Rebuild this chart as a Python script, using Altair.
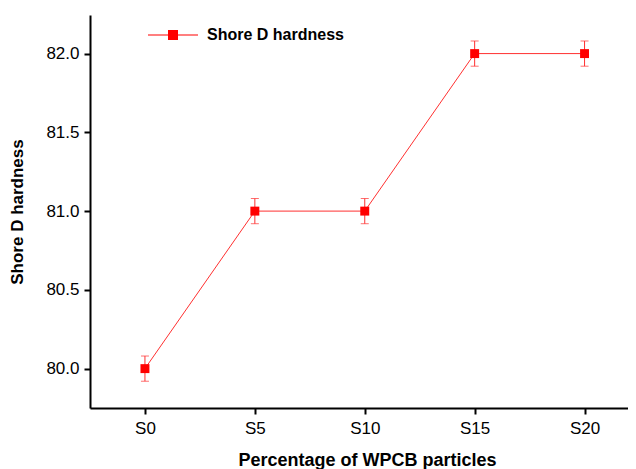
import altair as alt
import pandas as pd

categories = ["S0", "S5", "S10", "S15", "S20"]
hardness = [80.0, 81.0, 81.0, 82.0, 82.0]
error = [0.08, 0.08, 0.08, 0.08, 0.08]
series_name = "Shore D hardness"
y_ticks = [80.0, 80.5, 81.0, 81.5, 82.0]

df = pd.DataFrame({"cat": categories, "val": hardness, "err": error})
df["lo"] = df["val"] - df["err"]
df["hi"] = df["val"] + df["err"]
df["series"] = series_name

RED = "#FF0000"
LINE_RED = "#FF3030"

x_scale = alt.Scale(type="point", padding=0.5, range=[0, 549.5])
x_enc = alt.X(
    "cat:N",
    sort=categories,
    scale=x_scale,
    axis=alt.Axis(
        title="Percentage of WPCB particles",
        titleX=277,
        labelAngle=0,
        labelFontSize=17,
        labelPadding=6,
        titleFontSize=18,
        titleFontWeight="bold",
        titlePadding=15,
        tickSize=6,
        tickWidth=2,
        domainWidth=2,
        domainColor="black",
        tickColor="black",
        labelColor="black",
        titleColor="black",
        grid=False,
    ),
)
y_scale = alt.Scale(domain=[79.75, 82.245], nice=False, zero=False)
y_enc = alt.Y(
    "val:Q",
    scale=y_scale,
    axis=alt.Axis(
        title="Shore D hardness",
        values=y_ticks,
        format=".1f",
        labelFontSize=17,
        labelPadding=5,
        titleFontSize=17,
        titleFontWeight="bold",
        titlePadding=19,
        tickSize=6,
        tickWidth=2,
        domainWidth=2,
        domainColor="black",
        tickColor="black",
        labelColor="black",
        titleColor="black",
        grid=False,
    ),
)

# legend glyph: thin line through a filled square (all filled, no stroke)
legend_path = "M-1,-0.022H1V0.022H-1ZM-0.2,-0.2H0.2V0.2H-0.2Z"
color_scale = alt.Scale(domain=[series_name], range=[RED])

base = alt.Chart(df)

line = base.mark_line(strokeWidth=1, color=LINE_RED).encode(x=x_enc, y=y_enc)

rules = base.mark_rule(color=LINE_RED, strokeWidth=1).encode(
    x=alt.X("cat:N", sort=categories, scale=x_scale),
    y=alt.Y("lo:Q", scale=y_scale),
    y2="hi:Q",
)
caps_lo = base.mark_tick(color=LINE_RED, thickness=1, size=8).encode(
    x=alt.X("cat:N", sort=categories, scale=x_scale),
    y=alt.Y("lo:Q", scale=y_scale),
)
caps_hi = base.mark_tick(color=LINE_RED, thickness=1, size=8).encode(
    x=alt.X("cat:N", sort=categories, scale=x_scale),
    y=alt.Y("hi:Q", scale=y_scale),
)

points = base.mark_square(size=80, filled=True, opacity=1).encode(
    x=alt.X("cat:N", sort=categories, scale=x_scale),
    y=alt.Y("val:Q", scale=y_scale),
    color=alt.Color(
        "series:N",
        scale=color_scale,
        legend=alt.Legend(
            title=None,
            orient="none",
            legendX=58,
            legendY=-5,
            symbolType=legend_path,
            symbolSize=2500,
            symbolStrokeWidth=0,
            symbolOpacity=1,
            labelFontSize=16,
            labelFontWeight="bold",
            labelColor="black",
            labelOffset=9,
            padding=0,
        ),
    ),
)

chart = (
    alt.layer(line, rules, caps_lo, caps_hi, points)
    .properties(
        width=538,
        height=393,
        autosize=alt.AutoSizeParams(type="none"),
        padding={"left": 82, "top": 7, "right": 0, "bottom": 61},
    )
    .configure(font="Liberation Sans")
    .configure_view(stroke=None)
)

chart.save("out.html", embed_options={"renderer": "svg", "actions": False})
